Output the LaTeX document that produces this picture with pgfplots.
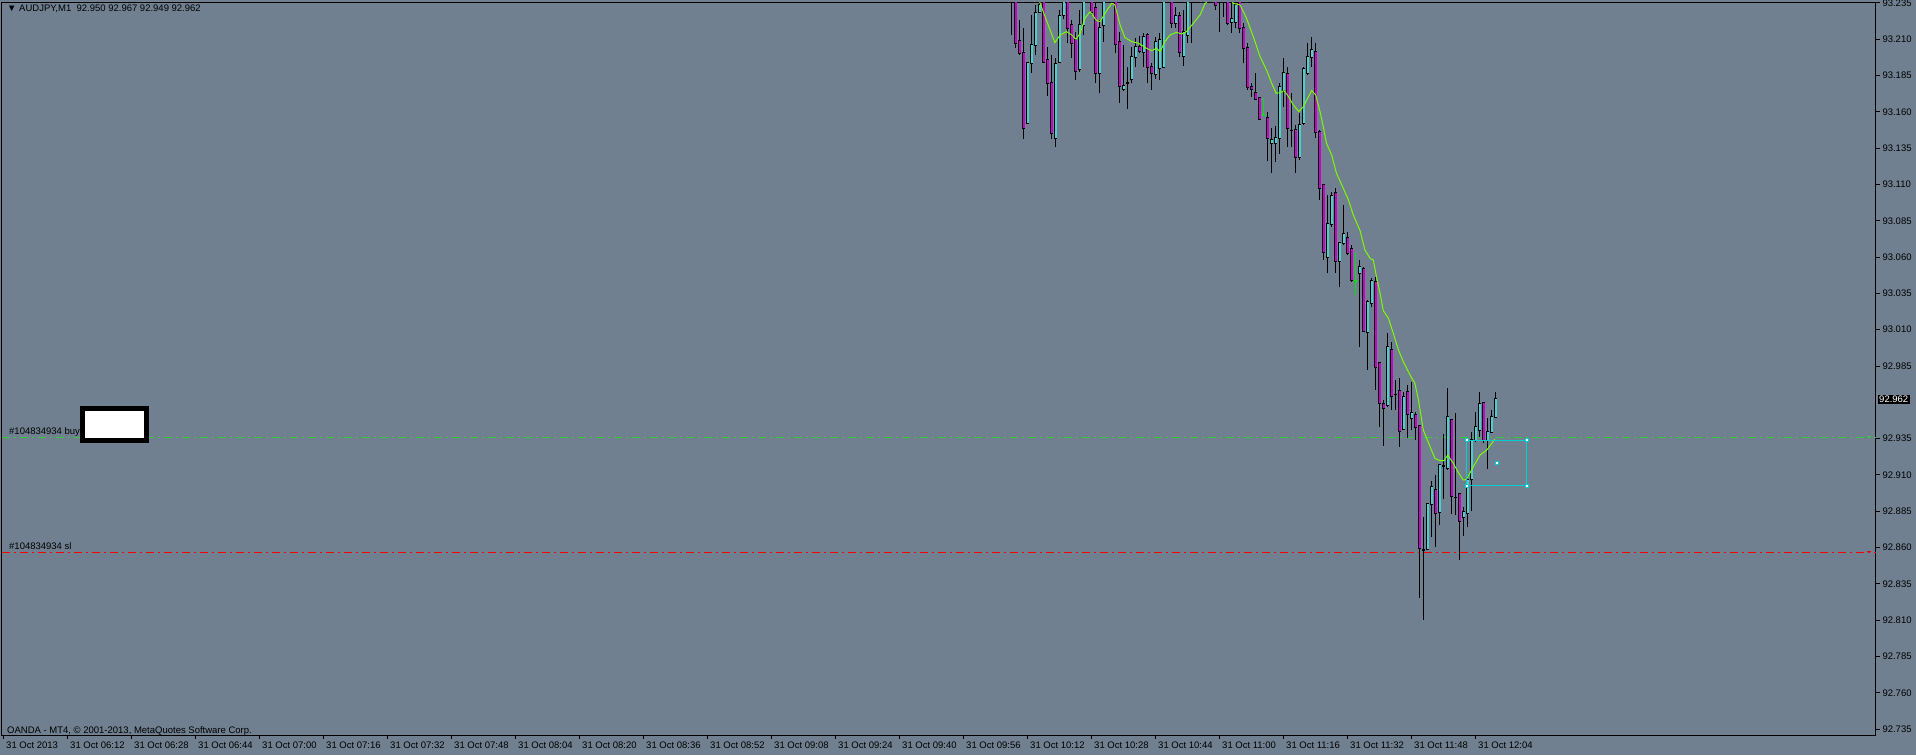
\documentclass[border=0pt]{standalone}
\usepackage{pgfplots}
\pgfplotsset{compat=1.18}
\usepackage{pgfplotstable}
\usepackage{fontspec}
\setmainfont{Liberation Sans}

\definecolor{bgc}{RGB}{112,128,144}
\definecolor{bullc}{RGB}{72,209,204}
\definecolor{bearc}{RGB}{204,0,204}
\definecolor{mac}{RGB}{124,252,0}
\definecolor{buyc}{RGB}{50,205,50}
\definecolor{slc}{RGB}{255,0,0}
\definecolor{boxc}{RGB}{0,206,209}
\definecolor{dojic}{RGB}{0,230,0}
\newcommand\chartfont{\fontsize{9.5}{11}\selectfont}

% AUDJPY M1, minutes since 00:00, open high low close
\pgfplotstableread{
t o h l c
612 93.1525 93.1946 93.1520 93.1934
613 93.1934 93.2267 93.1870 93.2060
614 93.2060 93.2337 93.1991 93.2284
615 93.2290 93.2450 93.2279 93.2337
619 93.1423 93.1969 93.1359 93.1927
620 93.1946 93.2302 93.1934 93.2261
621 93.2267 93.2500 93.2238 93.2400
625 93.1893 93.2302 93.1877 93.2198
626 93.2198 93.2500 93.2130 93.2400
630 93.1870 93.2233 93.1731 93.2175
631 93.2198 93.2500 93.2084 93.2400
636 93.1756 93.2061 93.1747 93.1779
638 93.1825 93.2049 93.1796 93.1981
639 93.1976 93.2107 93.1911 93.2045
641 93.2015 93.2146 93.1911 93.2114
644 93.1861 93.2118 93.1825 93.2084
645 93.1900 93.2141 93.1819 93.2095
646 93.1911 93.2500 93.1900 93.2400
649 93.2215 93.2325 93.2180 93.2261
651 93.1985 93.2302 93.1916 93.2153
652 93.2130 93.2500 93.2077 93.2400
663 93.2222 93.2400 93.2146 93.2238
664 93.2222 93.2450 93.2175 93.2337
673 93.1384 93.1487 93.1177 93.1406
674 93.1384 93.1503 93.1257 93.1418
675 93.1418 93.1800 93.1310 93.1774
676 93.1750 93.1969 93.1636 93.1866
680 93.1287 93.1590 93.1269 93.1510
681 93.1526 93.1911 93.1510 93.1893
682 93.1866 93.2073 93.1854 93.1981
683 93.1981 93.2114 93.1907 93.2027
687 93.0598 93.1028 93.0488 93.0828
688 93.0826 93.1051 93.0810 93.1021
690 93.0575 93.0700 93.0396 93.0695
691 93.0695 93.0959 93.0683 93.0759
695 93.0488 93.0580 92.9979 93.0530
697 93.0087 93.0305 92.9822 93.0293
698 93.0286 93.0454 93.0259 93.0436
702 92.9581 93.0075 92.9570 92.9979
706 92.9414 92.9673 92.9409 92.9634
708 92.9490 92.9742 92.9409 92.9524
712 92.8587 92.8904 92.8583 92.8900
713 92.8900 92.9060 92.8675 92.9014
715 92.8847 92.9170 92.8755 92.9168
717 92.9145 92.9696 92.9134 92.9497
721 92.8808 92.8881 92.8679 92.8847
722 92.8835 92.9092 92.8743 92.9065
723 92.9069 92.9398 92.8854 92.9340
724 92.9340 92.9535 92.9329 92.9432
725 92.9409 92.9673 92.9363 92.9586
727 92.9340 92.9490 92.9138 92.9398
728 92.9398 92.9547 92.9391 92.9497
729 92.9500 92.9670 92.9490 92.9620
}\bull

\pgfplotstableread{
t o h l c
608 93.2450 93.2500 93.2130 93.2400
609 93.2400 93.2500 93.2042 93.2077
610 93.2086 93.2233 93.1992 93.2003
611 93.2003 93.2175 93.1416 93.1490
616 93.2400 93.2500 93.1934 93.1946
617 93.1957 93.2049 93.1711 93.1796
618 93.1796 93.1992 93.1416 93.1456
622 93.2400 93.2500 93.2077 93.2175
623 93.2198 93.2233 93.1969 93.2077
624 93.2095 93.2153 93.1819 93.1884
628 93.2400 93.2500 93.2267 93.2290
629 93.2314 93.2450 93.1796 93.1870
634 93.2400 93.2500 93.2003 93.2065
635 93.2084 93.2153 93.1659 93.1779
640 93.2045 93.2123 93.2003 93.2022
642 93.2130 93.2141 93.1796 93.1911
643 93.1911 93.1934 93.1751 93.1866
648 93.2400 93.2500 93.2175 93.2215
650 93.2261 93.2290 93.1981 93.2015
653 93.2450 93.2500 93.2077 93.2400
659 93.2400 93.2500 93.2302 93.2337
660 93.2450 93.2500 93.2153 93.2400
661 93.2450 93.2500 93.2256 93.2400
662 93.2400 93.2500 93.2198 93.2215
665 93.2400 93.2500 93.2141 93.2175
666 93.2175 93.2215 93.1934 93.2038
667 93.2043 93.2073 93.1751 93.1774
668 93.1770 93.1796 93.1705 93.1756
669 93.1728 93.1866 93.1682 93.1687
670 93.1694 93.1705 93.1545 93.1549
672 93.1556 93.1602 93.1264 93.1423
677 93.1861 93.1911 93.1361 93.1487
679 93.1475 93.1510 93.1182 93.1292
684 93.2015 93.2073 93.1418 93.1464
685 93.1464 93.1475 93.0993 93.1073
686 93.1096 93.1100 93.0580 93.0637
689 93.1039 93.1073 93.0493 93.0575
692 93.0729 93.0775 93.0614 93.0626
693 93.0653 93.0683 93.0431 93.0442
696 93.0516 93.0530 93.0087 93.0093
699 93.0431 93.0465 92.9685 92.9845
700 92.9868 92.9880 92.9432 92.9597
701 92.9588 92.9616 92.9299 92.9558
703 92.9960 93.0018 92.9547 92.9643
705 92.9678 92.9765 92.9294 92.9405
707 92.9669 92.9719 92.9352 92.9519
709 92.9513 92.9535 92.9340 92.9428
710 92.9437 92.9440 92.8254 92.8594
714 92.8996 92.9099 92.8606 92.8835
718 92.9478 92.9480 92.8831 92.8955
720 92.8966 92.8970 92.8514 92.8785
726 92.9597 92.9604 92.9322 92.9340
}\bear

\pgfplotstableread{
t o h l c
637 93.1800 93.1911 93.1618 93.1800
678 93.1471 93.1728 93.1361 93.1471
704 92.9652 92.9754 92.9547 92.9652
711 92.8583 92.8812 92.8101 92.8583
716 92.9161 92.9382 92.8932 92.9161
719 92.8943 92.9524 92.8824 92.8943
}\doji

\pgfplotstableread{
t o h l c
671 93.1579 93.1694 93.1572 93.1579
694 93.0436 93.0626 93.0339 93.0436
}\gdoji

\pgfplotsset{
  cbar/.style 2 args={draw=none, mark=none, forget plot,
    error bars/.cd, y dir=plus, y explicit, error mark=none,
    error bar style={draw=#1, line width=#2}},
}

\begin{document}
\begin{tikzpicture}
\fill[bgc] (0pt,0pt) rectangle (1916pt,755pt);
\begin{axis}[
  at={(2pt,20pt)}, anchor=south west,
  scale only axis, width=1874pt, height=732pt,
  xmin=355.575, xmax=824.075, ymin=92.7309, ymax=93.235,
  axis line style={black, line width=1pt},
  tick style={black, line width=1pt},
  tick align=outside, major tick length=4pt,
  xtick pos=bottom, ytick pos=right, yticklabel pos=right,
  xtick={356,372,...,724},
  xticklabels={31 Oct 2013,31 Oct 06:12,31 Oct 06:28,31 Oct 06:44,31 Oct 07:00,
    31 Oct 07:16,31 Oct 07:32,31 Oct 07:48,31 Oct 08:04,31 Oct 08:20,31 Oct 08:36,
    31 Oct 08:52,31 Oct 09:08,31 Oct 09:24,31 Oct 09:40,31 Oct 09:56,31 Oct 10:12,
    31 Oct 10:28,31 Oct 10:44,31 Oct 11:00,31 Oct 11:16,31 Oct 11:32,31 Oct 11:48,
    31 Oct 12:04},
  ytick={92.735,92.76,92.785,92.81,92.835,92.86,92.885,92.91,92.935,92.985,
    93.01,93.035,93.06,93.085,93.11,93.135,93.16,93.185,93.21,93.235},
  scaled y ticks=false,
  y tick label style={/pgf/number format/fixed, /pgf/number format/fixed zerofill,
    /pgf/number format/precision=3, /pgf/number format/assume math mode=true,
    font=\chartfont, anchor=west, xshift=-1pt},
  x tick label style={font=\chartfont, anchor=north west, xshift=-1pt, yshift=1pt},
]
% order lines
\addplot[buyc, line width=0.8pt, dash pattern=on 8pt off 4pt on 2pt off 4pt]
  coordinates {(355.575,92.9361) (824.075,92.9361)};
\addplot[slc, line width=0.8pt, dash pattern=on 8pt off 4pt on 2pt off 4pt]
  coordinates {(355.575,92.8569) (824.075,92.8569)};

% bull candles
\addplot[cbar={black}{1pt}] table[x=t, y=l, y error expr={\thisrow{h}-\thisrow{l}}] {\bull};
\addplot[cbar={black}{3.6pt}] table[x=t, y expr={min(\thisrow{o},\thisrow{c})-0.0007},
  y error expr={abs(\thisrow{c}-\thisrow{o})+0.0014}] {\bull};
\addplot[cbar={bullc}{1.8pt}] table[x=t, y expr={min(\thisrow{o},\thisrow{c})},
  y error expr={abs(\thisrow{c}-\thisrow{o})}] {\bull};
% bear candles
\addplot[cbar={black}{1pt}] table[x=t, y=l, y error expr={\thisrow{h}-\thisrow{l}}] {\bear};
\addplot[cbar={black}{3.6pt}] table[x=t, y expr={min(\thisrow{o},\thisrow{c})-0.0007},
  y error expr={abs(\thisrow{c}-\thisrow{o})+0.0014}] {\bear};
\addplot[cbar={bearc}{1.8pt}] table[x=t, y expr={min(\thisrow{o},\thisrow{c})},
  y error expr={abs(\thisrow{c}-\thisrow{o})}] {\bear};
% doji
\addplot[cbar={black}{1pt}] table[x=t, y=l, y error expr={\thisrow{h}-\thisrow{l}}] {\doji};
\addplot[cbar={black}{3.6pt}] table[x=t, y expr={\thisrow{o}-0.0005}, y error expr={0.001}] {\doji};
\addplot[cbar={dojic}{1pt}] table[x=t, y=l, y error expr={\thisrow{h}-\thisrow{l}}] {\gdoji};
\addplot[cbar={dojic}{3pt}] table[x=t, y expr={\thisrow{o}-0.0004}, y error expr={0.0008}] {\gdoji};

% moving average
\addplot[mac, line width=1pt] coordinates {
(613,93.2600) (615.1,93.2348) (617.6,93.2164) (618.8,93.2077) (620.1,93.2130)
(621.7,93.2153) (623.0,93.2130) (624.1,93.2100) (625.1,93.2141) (626.3,93.2245)
(627.6,93.2291) (629.2,93.2229) (630.1,93.2222) (631.6,93.2291) (633.0,93.2348)
(633.8,93.2337) (635.1,93.2199) (636.3,93.2112) (638.0,93.2084) (639.7,93.2073)
(641.7,93.2038) (643.0,93.2022) (644.2,93.2038) (645.1,93.2015) (646.3,93.2084)
(647.6,93.2130) (649.2,93.2148) (650.5,93.2137) (651.7,93.2153) (653.4,93.2210)
(655.1,93.2268) (656.3,93.2343) (657.2,93.2371) (660,93.2450) (663,93.2370)
(663.4,93.2348) (665.1,93.2337) (666.7,93.2245) (668.4,93.2118) (670.1,93.1981)
(671.7,93.1889) (673.0,93.1797) (674.1,93.1728) (675.1,93.1733) (676.1,93.1747)
(677.2,93.1705) (678.4,93.1648) (679.8,93.1602) (680.9,93.1636) (682.2,93.1705)
(683.0,93.1747) (684.0,93.1717) (685.1,93.1600) (685.9,93.1498) (686.7,93.1384)
(688.0,93.1303) (689.2,93.1177) (690.9,93.1074) (692.2,93.0993) (693.4,93.0890)
(695.1,93.0782) (696.3,93.0649) (697.6,93.0591) (698.4,93.0580) (699.2,93.0465)
(700.1,93.0350) (700.9,93.0231) (702.2,93.0178) (703.4,93.0075) (704.7,92.9960)
(705.9,92.9880) (707.6,92.9788) (708.8,92.9731) (709.7,92.9616) (710.9,92.9409)
(712.2,92.9322) (713.8,92.9214) (715.1,92.9198) (716.1,92.9198) (717.0,92.9237)
(718.4,92.9180) (719.7,92.9115) (720.9,92.9065) (721.7,92.9069) (723.4,92.9157)
(725.1,92.9237) (726.75,92.9271) (728.0,92.9317) (728.8,92.9347)
};

% selected rectangle object
\addplot[boxc, line width=1pt] coordinates {
(721.8,92.9340) (736.8,92.9340) (736.8,92.9024) (721.8,92.9024) (721.8,92.9340)};
\addplot[only marks, mark=square*, mark size=1.8pt,
  mark options={fill=white, draw=boxc, line width=0.8pt}] coordinates {
(721.8,92.9340) (736.8,92.9340) (736.8,92.9024) (721.8,92.9024) (729.3,92.9182)};
\end{axis}

\node[anchor=west, inner sep=0pt, font=\chartfont] at (7pt,746pt)
  {▼ AUDJPY,M1\ \ 92.950 92.967 92.949 92.962};
\node[anchor=base west, inner sep=0pt, font=\chartfont] at (9pt,320pt) {\#104834934 buy};
\node[anchor=base west, inner sep=0pt, font=\chartfont] at (9pt,205pt) {\#104834934 sl};
\draw[line width=5pt, fill=white] (82.5pt,314pt) rectangle (146.5pt,346.7pt);
\node[anchor=base west, inner sep=0pt, font=\chartfont] at (7pt,22pt)
  {OANDA - MT4, © 2001-2013, MetaQuotes Software Corp.};
\node[anchor=west, fill=black, text=white, inner xsep=1.5pt, inner ysep=1pt,
  font=\chartfont] at (1877.5pt,355.5pt) {92.962};
\draw[buyc, line width=1pt] (1867pt,318pt) -- (1871pt,318pt);
\draw[slc, line width=1pt] (1867pt,203pt) -- (1871pt,203pt);

\pgfresetboundingbox
\useasboundingbox (0pt,0pt) rectangle (1916pt,755pt);
\end{tikzpicture}
\end{document}
